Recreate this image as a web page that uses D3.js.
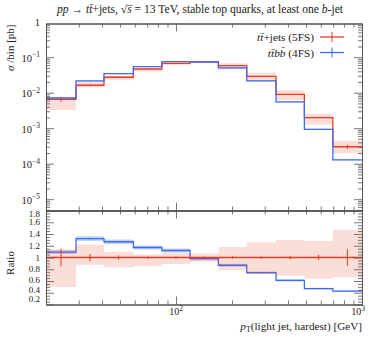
<!DOCTYPE html>
<html>
<head>
<meta charset="utf-8">
<script src="https://cdn.jsdelivr.net/npm/d3@7"></script>
<style>
  body { margin: 0; background: #fff; }
  svg { display: block; }
  text { font-family: "Liberation Serif", "DejaVu Serif", serif; fill: #222; }
</style>
</head>
<body>
<svg width="374" height="337"></svg>
<script>
// bin edges of pT (light jet, hardest) in GeV
var edges = [20, 29, 41, 59, 84, 119, 169, 240, 345, 490, 697, 1000];

// sigma / bin [pb]
var xsec5FS = [6.5e-3, 0.0162, 0.0272, 0.0465, 0.0670, 0.0747, 0.0576, 0.0290, 9.0e-3, 1.98e-3, 3.0e-4];
var xsec4FS = [7.1e-3, 0.0214, 0.0345, 0.0544, 0.0750, 0.0732, 0.0500, 0.0215, 5.5e-3, 9.3e-4, 1.28e-4];

// relative stat. error of the 5FS curve, and its scale band (relative)
var err5FS = [0.15, 0.063, 0.035, 0.02, 0.02, 0.02, 0.02, 0.02, 0.03, 0.045, 0.14];
var err4FS = [0.01, 0.01, 0.01, 0.01, 0.01, 0.01, 0.01, 0.01, 0.01, 0.01, 0.01];
var bandLo5FS = [0.50, 0.875, 0.83, 0.85, 0.89, 0.93, 0.78, 0.72, 0.69, 0.64, 0.66];
var bandHi5FS = [1.14, 1.22, 1.10, 1.05, 1.08, 1.07, 1.18, 1.26, 1.30, 1.28, 1.47];
var band4FS = 0.03;

var yMainTicks = [1e-5, 1e-4, 1e-3, 1e-2, 1e-1, 1];
var yMainLabels = ['5', '4', '3', '2', '1', ''];
var yRatioTicks = [0.2, 0.4, 0.6, 0.8, 1, 1.2, 1.4, 1.6, 1.8];
var yRatioLabels = ['0.2', '0.4', '0.6', '0.8', '1', '1.2', '1.4', '1.6', '1.8'];
var xMajorTicks = [100, 1000];
var xLabels = ['2', '3'];

var red = '#ee3a1e';
var blue = '#3d6cf2';
var axisColor = '#555';

var svg = d3.select('svg');

var left = 46, right = 362;
var mainTop = 23.5, mainBottom = 210.5, ratioBottom = 304.5;

var x = d3.scaleLog().domain([20, 1000]).range([left, right]);
var y = d3.scaleLog().domain([4.8e-6, 0.89]).range([mainBottom, mainTop]);
var yr = d3.scaleLinear().domain([0.2, 1.8]).range([ratioBottom, mainBottom]);

// minor tick values
var xMinor = [];
[10, 100].forEach(function (d) {
  for (var k = 2; k <= 9; k++) if (d * k >= 20 && d * k < 1000) xMinor.push(d * k);
});
var yMinor = [];
for (var e = -6; e <= 0; e++) {
  for (var k = 2; k <= 9; k++) {
    var v = k * Math.pow(10, e);
    if (v > 4.8e-6 && v < 0.89) yMinor.push(v);
  }
}
var yrMinor = d3.range(0.2, 1.8001, 0.05).filter(function (d) {
  return Math.abs(d * 5 - Math.round(d * 5)) > 1e-6;
});

// step helpers
var stepData = function (vals) {
  var pts = vals.map(function (v, i) { return {x: edges[i], v: v}; });
  pts.push({x: edges[edges.length - 1], v: vals[vals.length - 1]});
  return pts;
};
var stepBand = function (lo, hi) {
  var pts = lo.map(function (v, i) { return {x: edges[i], lo: v, hi: hi[i]}; });
  pts.push({x: edges[edges.length - 1], lo: lo[lo.length - 1], hi: hi[hi.length - 1]});
  return pts;
};
var centers = edges.slice(0, -1).map(function (d, i) { return Math.sqrt(d * edges[i + 1]); });

svg.append('clipPath').attr('id', 'cm').append('rect')
  .attr('x', left).attr('y', mainTop).attr('width', right - left).attr('height', mainBottom - mainTop);
svg.append('clipPath').attr('id', 'cr').append('rect')
  .attr('x', left).attr('y', mainBottom).attr('width', right - left).attr('height', ratioBottom - mainBottom);

var gMain = svg.append('g').attr('clip-path', 'url(#cm)');
var gRatio = svg.append('g').attr('clip-path', 'url(#cr)');

var drawSeries = function (g, ys, vals, lo, hi, errs, color, bandOpacity) {
  var area = d3.area().curve(d3.curveStepAfter)
    .x(function (d) { return x(d.x); })
    .y0(function (d) { return ys(d.lo); })
    .y1(function (d) { return ys(d.hi); });
  g.append('path').datum(stepBand(lo, hi)).attr('d', area)
    .attr('fill', color).attr('fill-opacity', bandOpacity).attr('stroke', 'none');
  var line = d3.line().curve(d3.curveStepAfter)
    .x(function (d) { return x(d.x); })
    .y(function (d) { return ys(d.v); });
  g.append('path').datum(stepData(vals)).attr('d', line)
    .attr('fill', 'none').attr('stroke', color).attr('stroke-width', 1.3);
  g.selectAll(null).data(vals).enter().append('line')
    .attr('x1', function (d, i) { return x(centers[i]); })
    .attr('x2', function (d, i) { return x(centers[i]); })
    .attr('y1', function (d, i) { return ys(d * (1 - errs[i])); })
    .attr('y2', function (d, i) { return ys(d * (1 + errs[i])); })
    .attr('stroke', color).attr('stroke-width', 1);
};

// main panel
var lo5 = xsec5FS.map(function (d, i) { return d * bandLo5FS[i]; });
var hi5 = xsec5FS.map(function (d, i) { return d * bandHi5FS[i]; });
var lo4 = xsec4FS.map(function (d) { return d * (1 - band4FS); });
var hi4 = xsec4FS.map(function (d) { return d * (1 + band4FS); });
drawSeries(gMain, y, xsec5FS, lo5, hi5, err5FS, red, 0.17);
drawSeries(gMain, y, xsec4FS, lo4, hi4, err4FS, blue, 0.3);

// ratio panel
var ones = xsec5FS.map(function () { return 1; });
var ratio4 = xsec4FS.map(function (d, i) { return d / xsec5FS[i]; });
drawSeries(gRatio, yr, ratio4, ratio4.map(function (d) { return d * (1 - band4FS); }),
  ratio4.map(function (d) { return d * (1 + band4FS); }), err4FS, blue, 0.3);
drawSeries(gRatio, yr, ones, bandLo5FS, bandHi5FS, err5FS, red, 0.17);

// axes (ticks pointing inward)
var styleAxis = function (g) {
  g.selectAll('path').attr('stroke', axisColor).attr('stroke-width', 1);
  g.selectAll('line').attr('stroke', axisColor).attr('stroke-width', 0.8);
  g.selectAll('text').remove();
};
var addAxis = function (axis, tx, ty) {
  svg.append('g').attr('transform', 'translate(' + tx + ',' + ty + ')').call(axis).call(styleAxis);
};
var xAxes = [
  [d3.axisBottom, mainTop], [d3.axisTop, mainBottom], [d3.axisBottom, mainBottom], [d3.axisTop, ratioBottom]
];
xAxes.forEach(function (a) {
  addAxis(a[0](x).tickValues(xMinor).tickSize(4).tickSizeOuter(0), 0, a[1]);
  addAxis(a[0](x).tickValues(xMajorTicks).tickSize(8).tickSizeOuter(0), 0, a[1]);
});
addAxis(d3.axisRight(y).tickValues(yMinor).tickSize(4).tickSizeOuter(0), left, 0);
addAxis(d3.axisRight(y).tickValues(yMainTicks.slice(0, 5)).tickSize(8).tickSizeOuter(0), left, 0);
addAxis(d3.axisLeft(y).tickValues(yMinor).tickSize(4).tickSizeOuter(0), right, 0);
addAxis(d3.axisLeft(y).tickValues(yMainTicks.slice(0, 5)).tickSize(8).tickSizeOuter(0), right, 0);
addAxis(d3.axisRight(yr).tickValues(yrMinor).tickSize(4).tickSizeOuter(0), left, 0);
addAxis(d3.axisRight(yr).tickValues(yRatioTicks).tickSize(8).tickSizeOuter(0), left, 0);
addAxis(d3.axisLeft(yr).tickValues(yrMinor).tickSize(4).tickSizeOuter(0), right, 0);
addAxis(d3.axisLeft(yr).tickValues(yRatioTicks).tickSize(8).tickSizeOuter(0), right, 0);

// y tick labels, main
yMainTicks.forEach(function (t, i) {
  var tx = svg.append('text').attr('x', 40).attr('y', y(t) + 4.5)
    .attr('text-anchor', 'end').attr('font-size', 10.5);
  if (t === 1) { tx.text('1'); return; }
  tx.append('tspan').text('10');
  tx.append('tspan').attr('dy', -4.5).attr('font-size', 7.5).text('\u2212' + yMainLabels[i]);
});

// y tick labels, ratio
yRatioTicks.forEach(function (t, i) {
  var shift = t === 1.8 ? 3 : (t === 0.2 ? -6 : (t === 0.4 ? -3 : (t === 0.6 ? -1.5 : 0)));
  svg.append('text').attr('x', 40).attr('y', yr(t) + 3.2 + shift)
    .attr('text-anchor', 'end').attr('font-size', 9).text(yRatioLabels[i]);
});

// x tick labels
xMajorTicks.forEach(function (t, i) {
  var tx = svg.append('text').attr('x', x(t) - (t === 1000 ? 4 : 0)).attr('y', 315)
    .attr('text-anchor', 'middle').attr('font-size', 10);
  tx.append('tspan').text('10');
  tx.append('tspan').attr('dy', -4.5).attr('font-size', 7.5).text(xLabels[i]);
});

// axis titles
var xt = svg.append('text').attr('x', right).attr('y', 329.5).attr('text-anchor', 'end').attr('font-size', 11.2);
xt.append('tspan').attr('font-style', 'italic').text('p');
xt.append('tspan').attr('dy', 2).attr('font-size', 8).text('T');
xt.append('tspan').attr('dy', -2).text('(light jet,  hardest) [GeV]');

svg.append('text').attr('transform', 'translate(14,' + (mainTop + 1) + ') rotate(-90)')
  .attr('text-anchor', 'end').attr('font-size', 11)
  .html('<tspan font-style="italic">\u03c3</tspan> /bin [pb]');
svg.append('text').attr('transform', 'translate(14,263) rotate(-90)')
  .attr('text-anchor', 'middle').attr('font-size', 11).text('Ratio');

// title
var title = svg.append('text').attr('x', 200).attr('y', 13).attr('text-anchor', 'middle').attr('font-size', 11.6);
title.append('tspan').attr('font-style', 'italic').text('pp');
title.append('tspan').text(' \u2192 ');
title.append('tspan').attr('font-style', 'italic').text('tt\u0304');
title.append('tspan').text('+jets, \u221a');
title.append('tspan').attr('font-style', 'italic').text('s\u0305');
title.append('tspan').text(' = 13 TeV, stable top quarks, at least one ');
title.append('tspan').attr('font-style', 'italic').text('b');
title.append('tspan').text('-jet');

// legend
var legend = [
  {label: ['tt\u0304', '+jets (5FS)'], color: red, err: 5},
  {label: ['tt\u0304bb\u0304', ' (4FS)'], color: blue, err: 5}
];
legend.forEach(function (d, i) {
  var ly = 37 + i * 15.5;
  var t = svg.append('text').attr('x', 314).attr('y', ly + 4).attr('text-anchor', 'end').attr('font-size', 11.3);
  t.append('tspan').attr('font-style', 'italic').text(d.label[0]);
  t.append('tspan').text(d.label[1]);
  svg.append('line').attr('x1', 320).attr('x2', 344).attr('y1', ly).attr('y2', ly)
    .attr('stroke', d.color).attr('stroke-width', 1.3);
  svg.append('line').attr('x1', 332).attr('x2', 332).attr('y1', ly - d.err).attr('y2', ly + d.err)
    .attr('stroke', d.color).attr('stroke-width', 1);
});
</script>
</body>
</html>
